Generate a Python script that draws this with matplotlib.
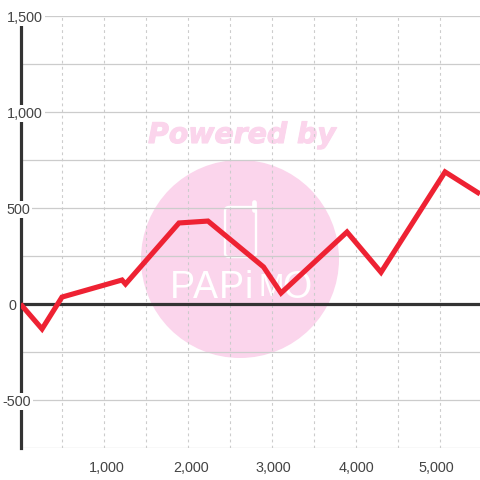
import matplotlib
matplotlib.use('Agg')
import matplotlib.pyplot as plt
from matplotlib.patches import Circle, FancyBboxPatch
import matplotlib.patheffects as pe

plt.rcParams['font.family'] = ['Liberation Sans', 'DejaVu Sans']

x_vals = [0, 257, 495, 1211, 1253, 1891, 2237, 2900, 3109, 3896, 4302, 5066, 5483]
y_vals = [0, -130, 36, 125, 104, 422, 432, 193, 57, 375, 165, 688, 573]

x_ticks = [1000, 2000, 3000, 4000, 5000]
x_labels = ['1,000', '2,000', '3,000', '4,000', '5,000']
x_grid = [500, 1000, 1500, 2000, 2500, 3000, 3500, 4000, 4500, 5000]
y_ticks = [1500, 1000, 500, 0, -500]
y_labels = ['1,500', '1,000', '500', '0', '-500']
y_minor = [1250, 750, 250, -250, -750]

# the labels in the picture do not sit exactly on their gridlines
x_label_px = [106.7, 190.7, 273.8, 356.3, 436]
y_label_right = [43, 43, 30, 16, 31]

PINK = '#FBD5EC'
DARK = '#333333'
TEXT = '#444444'
GRID = '#CCCCCC'

fig = plt.figure(figsize=(4.8, 4.8), dpi=100)

# watermark sits behind everything, drawn in pixel coordinates
bg = fig.add_axes([0, 0, 1, 1], zorder=0)
bg.set_xlim(0, 480)
bg.set_ylim(480, 0)
bg.axis('off')
bg.add_patch(Circle((240, 259), 99, fc=PINK, ec='none'))
bg.text(242, 135, 'Powered by', color=PINK, fontsize=20.4, family='DejaVu Sans',
        weight='bold', style='italic', ha='center', va='center',
        path_effects=[pe.withStroke(linewidth=0.8, foreground=PINK)])
bg.add_patch(FancyBboxPatch((225, 207), 31, 50, boxstyle='round,pad=0,rounding_size=4',
                            fc='none', ec='white', lw=1.7))
bg.plot([253.5, 253.5], [201.5, 210], color='white', lw=3.4, solid_capstyle='round')
letters = ['P', 'A', 'P', 'i', 'M', 'O']
letter_x = [182, 205, 231, 249, 271, 297]
letter_size = [27, 27, 27, 27, 22, 27]
for ch, lx, sz in zip(letters, letter_x, letter_size):
    bg.text(lx, 288, ch, color='white', fontsize=sz, ha='center', va='center')

ax = fig.add_axes([20.5 / 480, 32 / 480, 459.5 / 480, 432 / 480], zorder=1)
ax.patch.set_visible(False)
ax.set_xlim(0, 5483)
ax.set_ylim(-750, 1500)

ax.set_xticks(x_grid)
ax.set_yticks(y_ticks)
ax.set_yticks(y_minor, minor=True)
ax.set_xticklabels([])
ax.set_yticklabels([])
ax.tick_params(which='both', length=0)
ax.grid(True, axis='x', which='major', color=GRID, lw=0.8, ls=(0, (2.5, 3)), zorder=1)
ax.grid(True, axis='y', which='both', color=GRID, lw=0.9, ls='-', zorder=1)
ax.set_axisbelow(True)

for s in ['top', 'right', 'bottom']:
    ax.spines[s].set_visible(False)
ax.spines['left'].set_color(DARK)
ax.spines['left'].set_linewidth(2.3)
ax.spines['left'].set_zorder(2)

ax.axhline(0, color=DARK, lw=2.3, zorder=2)
ax.plot(x_vals, y_vals, color='#EE2233', lw=3.7, solid_joinstyle='miter',
        solid_capstyle='butt', zorder=3)

for px, lab in zip(x_label_px, x_labels):
    ax.annotate(lab, xy=(px / 480, 0), xycoords=('figure fraction', 'axes fraction'),
                xytext=(0, -9), textcoords='offset points',
                ha='center', va='top', color=TEXT, fontsize=10.4)

for val, lab, right in zip(y_ticks, y_labels, y_label_right):
    ax.annotate(lab, xy=(0, val), xycoords=('axes fraction', 'data'),
                xytext=((right - 20.5) * 0.72, 0), textcoords='offset points',
                ha='right', va='center_baseline', color=TEXT, fontsize=10.4, zorder=5,
                annotation_clip=False,
                bbox=dict(fc='white', ec='none', pad=1.2))

fig.savefig('out.png', dpi=100)
